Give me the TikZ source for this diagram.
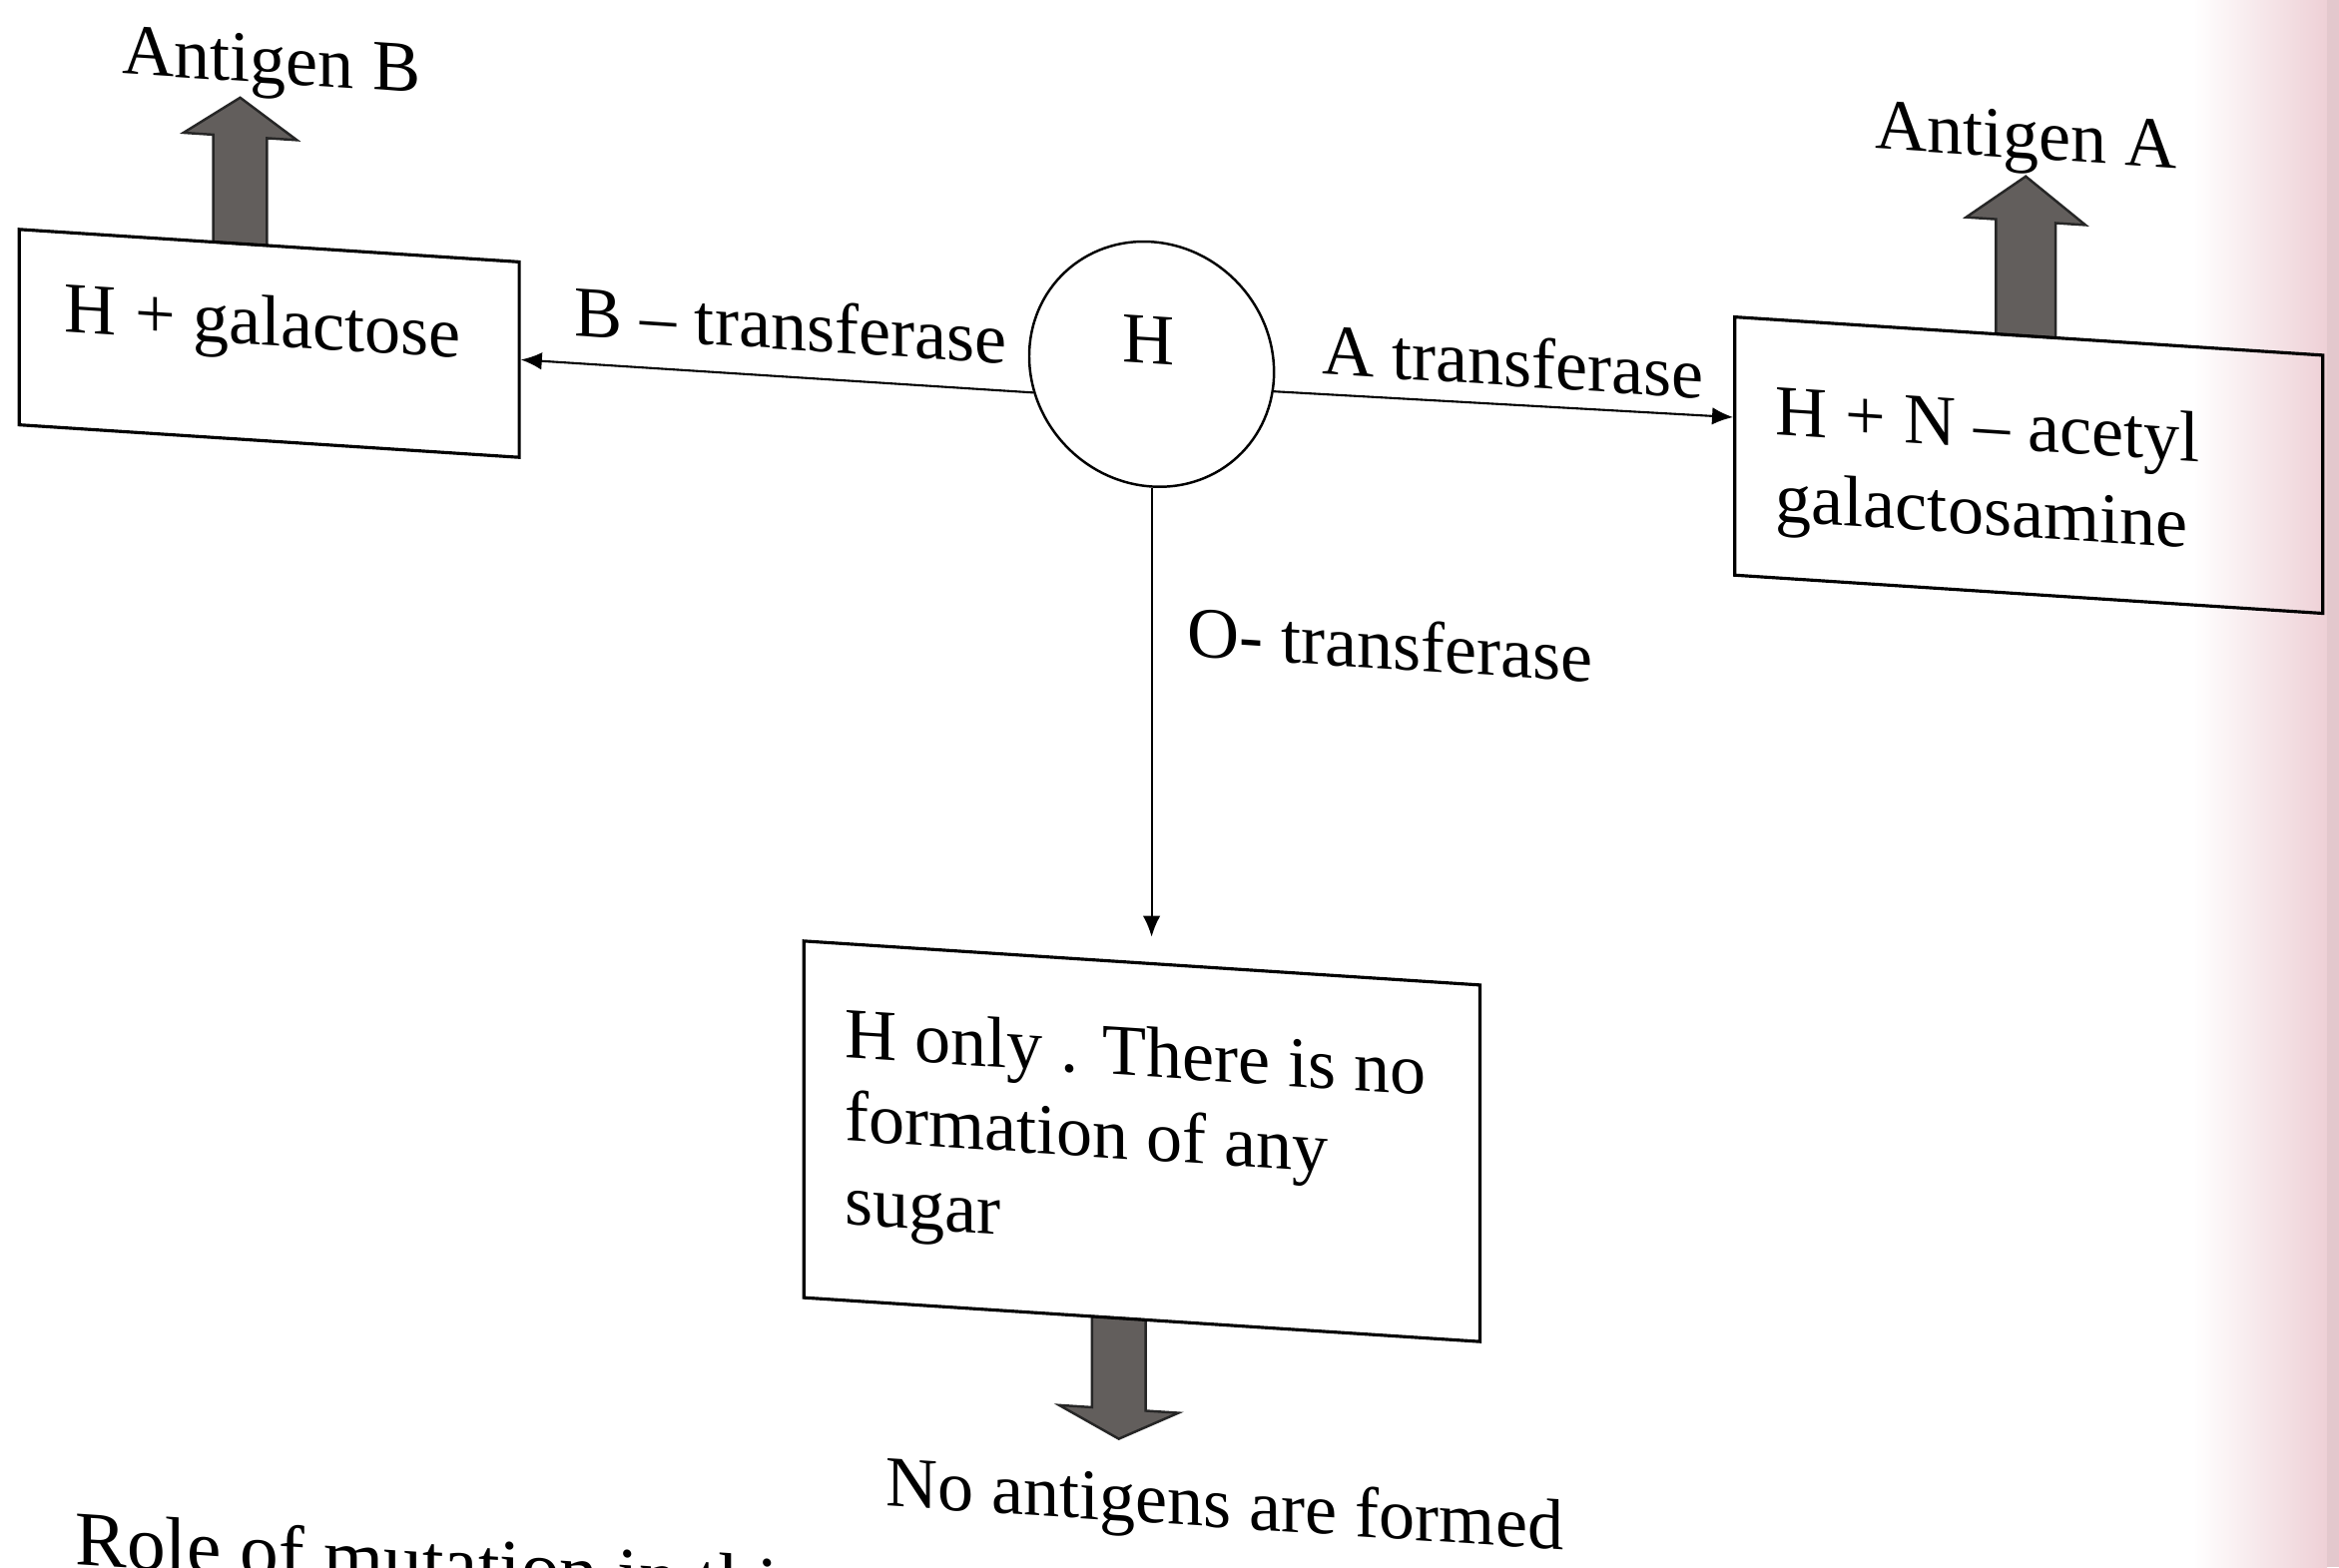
\documentclass[tikz,border=0pt]{standalone}
\usepackage{fontspec}
\setmainfont{Liberation Serif}
\usetikzlibrary{arrows.meta,calc}
\def\unitpx{0.4252pt}
\definecolor{pagepink}{RGB}{238,208,214}
\definecolor{fatgray}{RGB}{98,94,92}
\tikzset{
  txt/.style={font=\fontsize{20.5}{24.2}\selectfont, inner sep=0pt, transform shape},
  boxnode/.style={draw, line width=0.9pt, inner sep=0pt, transform shape},
  conn/.style={line width=0.6pt, -{Latex[length=6pt,width=5pt]}},
  fatarrow/.style={fill=fatgray, draw=black!85, line width=0.7pt, line join=miter},
}
\begin{document}
\begin{tikzpicture}[x=0.014943cm, y=-0.014943cm]
\useasboundingbox (0,0) rectangle (1568,1051);
\clip (0,0) rectangle (1568,1051);
\shade[left color=white, right color=pagepink] (1470,0) rectangle (1560,1051);
\fill[pagepink!90!gray] (1560,0) rectangle (1568,1051);
\begin{scope}[yslant=-0.065]
  % thick arrows
  \filldraw[fatarrow] (143,153) -- (143,81) -- (123,81) -- (161,55) -- (199,81) -- (179,81) -- (179,153) -- cycle;
  \filldraw[fatarrow] (1338,137) -- (1338,60) -- (1318,60) -- (1358,30) -- (1398,60) -- (1378,60) -- (1378,137) -- cycle;
  \filldraw[fatarrow] (732,835) -- (732,896) -- (710,896) -- (750,916) -- (790,896) -- (768,896) -- (768,835) -- cycle;
  % boxes and circle
  \node[boxnode, minimum width={335*\unitpx}, minimum height={131*\unitpx}] (Lbox) at (180.5,218.5) {};
  \node[boxnode, minimum width={394*\unitpx}, minimum height={173*\unitpx}] (Rbox) at (1360,223.5) {};
  \node[boxnode, minimum width={453*\unitpx}, minimum height={239*\unitpx}] (Bbox) at (765.5,715.5) {};
  \node[draw, circle, line width=0.7pt, minimum size={164*\unitpx}, inner sep=0pt, transform shape] (Hc) at (772,194) {};
  % texts
  \node[txt, anchor=base] (tH) at (770,194) {H};
  \node[txt, anchor=base] (agB) at (182,44) {Antigen B};
  \node[txt, anchor=base] (agA) at (1358,18) {Antigen A};
  \node[txt, anchor=base] (lB) at (530,200) {B – transferase};
  \node[txt, anchor=base] (lA) at (1014,193) {A transferase};
  \node[txt, anchor=base] (lO) at (932,388) {O- transferase};
  \node[txt, anchor=base west] (tL) at (43,220) {H + galactose};
  \node[txt, anchor=base west, align=left, font=\fontsize{20.5}{24.7}\selectfont] (tR) at (1190,272) {H + N – acetyl\\galactosamine};
  \node[txt, anchor=base west, align=left, font=\fontsize{20.5}{23.8}\selectfont] (tB) at (566,784) {H only . There is no\\formation of any\\sugar};
  \node[txt, anchor=base] (noag) at (821,971) {No antigens are formed};
  \node[txt, anchor=base west, font=\fontsize{22}{26}\selectfont] (role) at (50,1046) {Role of mutation in this};
  % connectors
  \coordinate (otip) at (772,578);
  \draw[conn] (Hc.197) -- (Lbox.east);
  \draw[conn] (Hc.-9) -- ($(Rbox.north west)!0.39!(Rbox.south west)$);
  \draw[conn] (Hc.south) -- (otip);
\end{scope}
\end{tikzpicture}
\end{document}
